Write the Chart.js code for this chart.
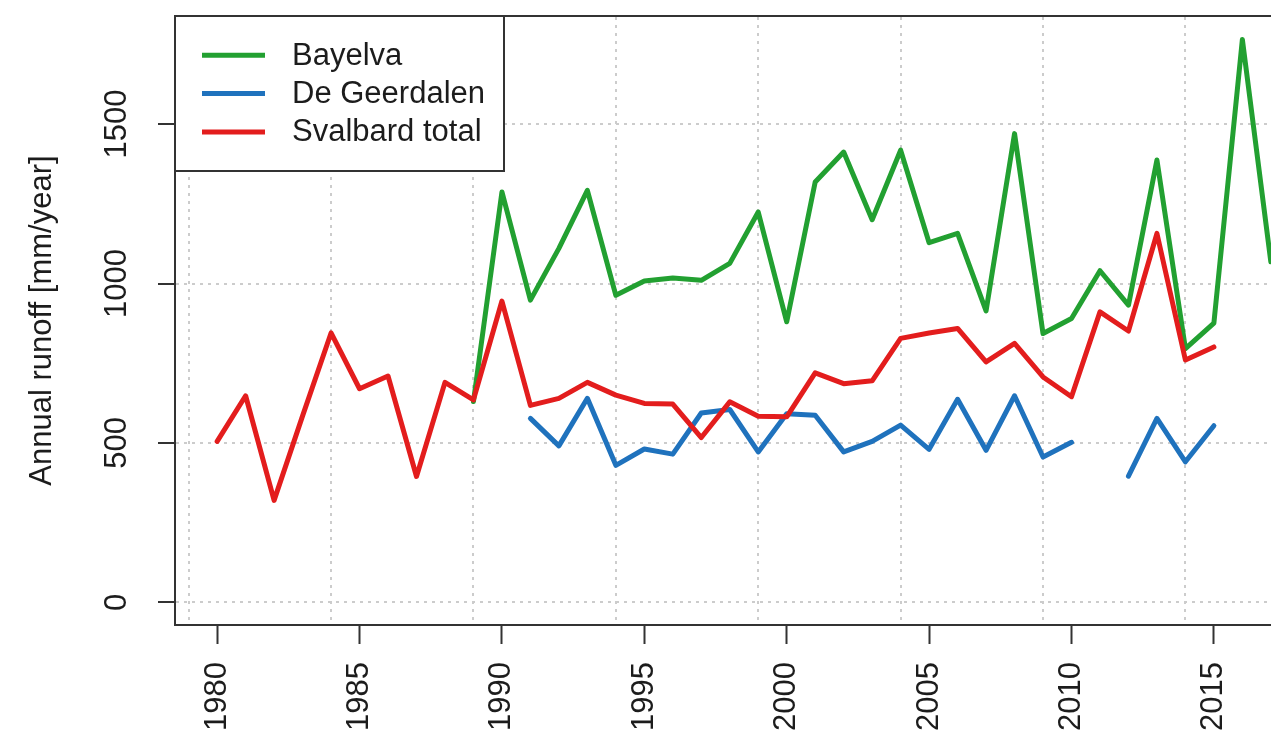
<!DOCTYPE html>
<html><head><meta charset="utf-8">
<script src="https://cdn.jsdelivr.net/npm/chart.js@4"></script>
<style>html,body{margin:0;padding:0;overflow:hidden;background:#fff;width:1271px;height:734px}</style>
</head><body>
<canvas id="c" width="1320" height="734" style="display:block;width:1320px;height:734px"></canvas>
<script>
const years = [1980,1981,1982,1983,1984,1985,1986,1987,1988,1989,1990,1991,1992,1993,1994,1995,1996,1997,1998,1999,2000,2001,2002,2003,2004,2005,2006,2007,2008,2009,2010,2011,2012,2013,2014,2015,2016,2017];
const bayelva = [null,null,null,null,null,null,null,null,null,630,1287,948,1110,1292,963,1008,1017,1010,1063,1224,880,1318,1412,1200,1418,1128,1157,914,1470,843,890,1040,932,1387,796,876,1765,1068];
const deGeerdalen = [null,null,null,null,null,null,null,null,null,null,null,577,491,640,430,481,465,594,605,472,592,587,472,505,556,480,637,477,648,456,502,null,396,577,441,554,null,null];
const svalbardTotal = [505,648,320,585,845,670,710,395,690,635,945,618,640,690,650,624,622,517,629,584,582,720,686,695,828,845,859,754,812,707,645,911,851,1157,760,801,null,null];
const xTickYears = [1980,1985,1990,1995,2000,2005,2010,2015];
const yTickValues = [0,500,1000,1500];
const seriesNames = ['Bayelva','De Geerdalen','Svalbard total'];

const FONT = "'Liberation Sans', Arial, Helvetica, sans-serif";
Chart.defaults.font.family = FONT;
Chart.defaults.font.size = 31;
Chart.defaults.color = '#1c1c1c';

const toPoints = arr => years.map((x, i) => ({x: x, y: arr[i]}));
const GRID = '#cccccc';
const AXIS = '#333';
const noPad = s => { s.paddingTop = 0; s.paddingBottom = 0; s.paddingLeft = 0; s.paddingRight = 0; };

const legendPlugin = {
  id: 'boxLegend',
  afterDraw(chart) {
    const ctx = chart.ctx, a = chart.chartArea;
    const left = a.left, top = a.top, w = 329, h = 155;
    ctx.save();
    ctx.fillStyle = '#fff';
    ctx.fillRect(left, top, w, h);
    ctx.strokeStyle = AXIS; ctx.lineWidth = 2;
    ctx.strokeRect(left, top, w, h);
    ctx.font = '31px ' + FONT;
    ctx.textBaseline = 'middle';
    ctx.textAlign = 'left';
    chart.data.datasets.forEach((ds, i) => {
      const y = top + 39.3 + i * 38.3;
      ctx.strokeStyle = ds.borderColor; ctx.lineWidth = 5; ctx.lineCap = 'butt';
      ctx.beginPath(); ctx.moveTo(left + 27, y); ctx.lineTo(left + 90, y); ctx.stroke();
      ctx.fillStyle = '#1c1c1c';
      ctx.fillText(ds.label, left + 117, y + 1);
    });
    ctx.restore();
  }
};

new Chart(document.getElementById('c'), {
  type: 'line',
  data: {
    datasets: [
      {label: seriesNames[0], data: toPoints(bayelva), borderColor: '#22a031', order: 2},
      {label: seriesNames[1], data: toPoints(deGeerdalen), borderColor: '#1f72bd', order: 1},
      {label: seriesNames[2], data: toPoints(svalbardTotal), borderColor: '#e31d1d', order: 0}
    ]
  },
  options: {
    responsive: false,
    animation: false,
    spanGaps: false,
    elements: {
      point: {radius: 0, hoverRadius: 0},
      line: {borderWidth: 5, tension: 0, borderJoinStyle: 'round', borderCapStyle: 'round', fill: false}
    },
    layout: {padding: {left: 0, top: 16, right: 7, bottom: 0}},
    plugins: {legend: {display: false}, tooltip: {enabled: false}},
    scales: {
      x: {
        type: 'linear', position: 'bottom', min: 1978.52, max: 2018.48,
        afterBuildTicks: s => { s.ticks = xTickYears.map(v => ({value: v})); },
        afterFit: s => { s.height = 109; noPad(s); },
        ticks: {minRotation: 90, maxRotation: 90, autoSkip: false, padding: 18, color: '#1c1c1c',
                callback: v => String(v)},
        grid: {display: true, drawOnChartArea: false, drawTicks: true, tickLength: 19, tickWidth: 2, tickColor: AXIS},
        border: {display: true, color: AXIS, width: 2}
      },
      xg: {
        axis: 'x', type: 'linear', position: 'top', min: 1978.52, max: 2018.48,
        afterBuildTicks: s => { const t = []; for (let v = 1979; v <= 2018; v += 5) t.push({value: v}); s.ticks = t; },
        afterFit: s => { s.height = 0; noPad(s); },
        ticks: {display: false},
        grid: {display: true, drawOnChartArea: true, drawTicks: false, color: GRID, lineWidth: 2},
        border: {display: true, color: AXIS, width: 2, dash: [3, 5]}
      },
      y: {
        type: 'linear', position: 'left', min: -70.7, max: 1838.7,
        afterBuildTicks: s => { s.ticks = yTickValues.map(v => ({value: v})); },
        afterFit: s => { s.width = 175; noPad(s); },
        ticks: {minRotation: 90, maxRotation: 90, crossAlign: 'center', padding: 6, color: '#1c1c1c',
                callback: v => String(v)},
        grid: {display: true, drawOnChartArea: true, color: GRID, lineWidth: 2, drawTicks: true,
               tickLength: 17, tickWidth: 2, tickColor: AXIS},
        border: {display: true, color: AXIS, width: 2, dash: [3, 5]},
        title: {display: true, text: 'Annual runoff [mm/year]', color: '#1c1c1c', font: {size: 31},
                padding: {top: 24, bottom: 0}}
      }
    }
  },
  plugins: [legendPlugin]
});
</script>
</body></html>
